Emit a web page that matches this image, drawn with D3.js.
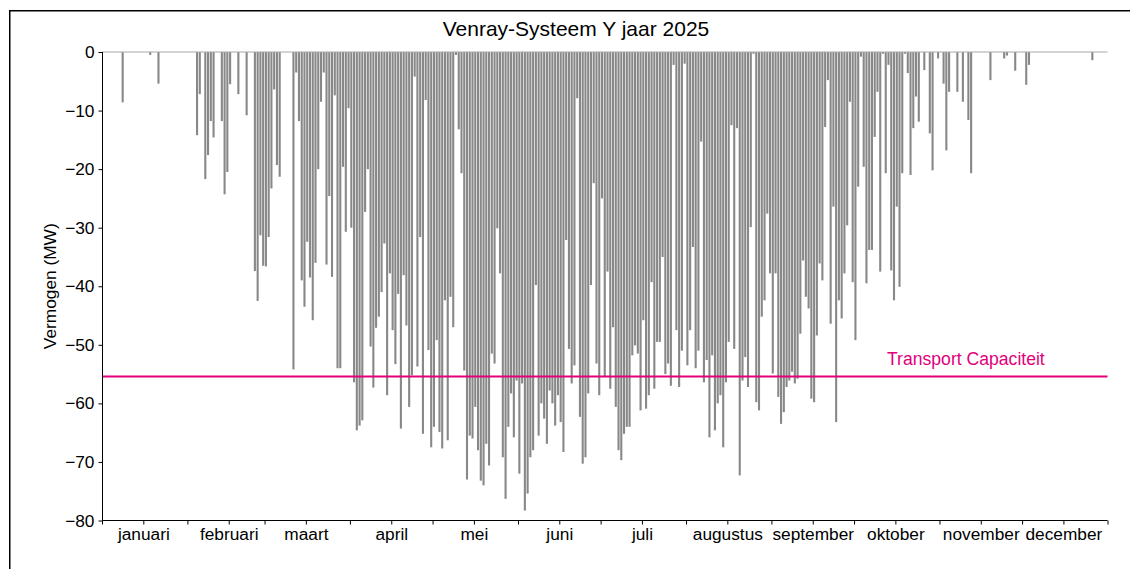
<!DOCTYPE html>
<html>
<head>
<meta charset="utf-8">
<script src="https://cdn.jsdelivr.net/npm/d3@7"></script>
<style>
  html, body { margin: 0; padding: 0; background: #fff; }
  svg { display: block; font-family: "Liberation Sans", Arial, sans-serif; }
</style>
</head>
<body>
<svg id="chart" width="1130" height="569"></svg>
<script>
// ---- DATA ----
const title = "Venray-Systeem Y jaar 2025";
const yLabel = "Vermogen (MW)";
const monthNames = ["januari","februari","maart","april","mei","juni","juli","augustus","september","oktober","november","december"];
const monthStartDay = [0,31,59,90,120,151,181,212,243,273,304,334,365];
const yTicks = [0,-10,-20,-30,-40,-50,-60,-70,-80];
const capacityLabel = "Transport Capaciteit";
const capacityValue = -55.4;

// daily peak feed-in (MW), index = day of year (0 = 1 januari)
const dailyPower = [
  // jan 0-30
  0,0,0,0,0,0,0,-8.6,0,0, 0,0,0,0,0,0,0,-0.5,0,0, -5.4,0,0,0,0,0,0,0,0,0, 0,
  // feb 31-58
  0,0,0,-14.2,-7.2,0,-21.7,-17.6,-11.8,-14.6, 0,0,-11.8,-24.3,-20.5,-5.5,0,0,-7.2,0, 0,-10.8,0,0,-37.4,-42.5,-31.3,-36.5,
  // mrt 59-89
  -36.6,-31.6,-23.3,-6.4,-19.3,-21.3,0,0,0,0, -54.2,-3.5,-11.8,-39,-43.5,-32.4,-38.5,-45.8,-36,-20, -8.5,-3.5,-36.3,-24.6,-38.4,-7.4,-54,-54,-19.6,-30.7, -9.6,
  // apr 90-119
  -30,-56.4,-64.6,-63.8,-62.9,-27.3,-20,-50.3,-57.3,-47.1, -45.2,-41,-32.7,-58.6,-37.8,-47.5,-53.3,-41.3,-64.3,-38.1, -46.7,-60.6,-55.2,-4.2,-53.7,-31.6,-65.2,-8.2,-50.9,-67.5,
  // mei 120-150
  -64,-49.2,-64.9,-67.7,-42.4,-66.3,-41.8,-47,-0.5,-13.2, -20.7,-54.4,-73,-65.5,-66,-60.6,-68,-73.2,-74,-66.9, -70.6,-51.5,-53.2,-30.1,-37.8,-69.2,-76.3,-64,-58.3,-65.8, -56.1,
  // jun 151-180
  -72,-56.6,-78.3,-75.4,-69.2,-68,-39.8,-65.5,-60,-62.6, -66.9,-57.8,-60,-63.8,-58.6,-63.2,-68.3,-32.1,-50.7,-56.6, -53.5,-7.9,-62.3,-70.3,-69.2,-58.3,-39.8,-22.4,-53.2,-58.6,
  // jul 181-211
  -25,-55.5,-37.5,-57.5,-47,-60.6,-68,-69.7,-65.2,-64, -64,-51.8,-50.1,-51.5,-61.2,-45.8,-60.9,-58.6,-39.3,-57.5, -49.5,-49.5,-35,-55,-53.2,-57,-2.2,-47.5,-57.2,-51, -2,
  // aug 212-242
  -53.5,-47.5,-33.3,-54,-51,-15.3,-56.4,-52.6,-65.8,-51.8, -64.6,-60,-58.6,-67.5,-56.4,-49.5,-12.5,-50.7,-13,-72.3, -56.1,-52.1,-57.2,-29.9,-0.3,-59.8,-61.2,-45.2,-42.4,-27.6, -37.8,
  // sep 243-272
  -54.9,-37.8,-58.9,-63.5,-61.5,-57.2,-56.1,-54.6,-56.6,-55.8, -48.1,-35.6,-41.8,-43.8,-59.2,-59.8,-48.4,-36.1,-39,-12.8, -4.8,-46.4,-26.4,-63.2,-42.4,-45.5,-37.8,-29.6,-8.5,-39.3,
  // okt 273-303
  -49.2,-23,-0.8,-19.6,-39.5,-33.8,-33.8,-14.5,-6.8,-37.5, -0.3,-20.7,-2.2,-37.3,-42.4,-26.4,-40.1,-20.7,-0.3,-3.6, -21,-13,-7.6,-11.9,0,-3.1,0,-13.9,-20.2,0, -1.1,
  // nov 304-333
  0,-5.4,-16.8,-6.8,0,0,-6.8,0,-8.5,0, -11.6,-20.7,0,0,0,0,0,0,-4.8,0, 0,0,0,-1.1,-0.6,0,0,-3.2,0,0,
  // dec 334-364
  0,-5.6,-2.2,0,0,0,0,0,0,0, 0,0,0,0,0,0,0,0,0,0, 0,0,0,0,0,-1.4,0,0,0,0, 0
];

// ---- CHART ----
const svg = d3.select("#chart");
const W = 1130, H = 569;
const margin = { left: 102.5, right: 1107.5, top: 52, bottom: 520.5 };

// figure frame
svg.append("rect")
  .attr("x", 9.75).attr("y", 10.75)
  .attr("width", W + 20).attr("height", H + 20)
  .attr("fill", "none").attr("stroke", "#000").attr("stroke-width", 1.5);

const x = d3.scaleLinear().domain([0, 365]).range([margin.left - 0.5, margin.right]);
const y = d3.scaleLinear().domain([-80, 0]).range([margin.bottom, margin.top]);

// bars
const days = dailyPower.map((v, i) => ({ day: i, value: v })).filter(d => d.value < 0);
const barW = 2.1;
svg.append("g").selectAll("rect")
  .data(days).join("rect")
  .attr("x", d => x(d.day + 0.5) - barW / 2)
  .attr("width", barW)
  .attr("y", y(0))
  .attr("height", d => y(d.value) - y(0))
  .attr("fill", "#888888");

// zero line
svg.append("line")
  .attr("x1", x(0)).attr("x2", x(365))
  .attr("y1", y(0)).attr("y2", y(0))
  .attr("stroke", "#a8a8a8").attr("stroke-width", 1);

// capacity line
svg.append("line")
  .attr("x1", x(0)).attr("x2", x(365))
  .attr("y1", y(capacityValue)).attr("y2", y(capacityValue))
  .attr("stroke", "#e2007a").attr("stroke-width", 2);
svg.append("text")
  .attr("x", 887).attr("y", y(capacityValue) - 11)
  .attr("fill", "#e2007a").attr("font-size", 17.6)
  .text(capacityLabel);

// y axis
const yAxis = d3.axisLeft(y).tickValues(yTicks).tickSize(4).tickPadding(4)
  .tickFormat(d3.format("d"));
const gy = svg.append("g").attr("transform", `translate(${margin.left},0)`).call(yAxis);
gy.select(".domain").attr("d", `M0,${margin.top}V${margin.bottom}`).attr("stroke", "#000").attr("stroke-width", 1);
gy.selectAll("text").attr("font-size", 17.3).attr("fill", "#000")
  .attr("font-family", "'Liberation Sans', Arial, sans-serif");

// x axis: ticks at month starts and mid-months, labels at mid-months
const midDays = monthStartDay.slice(0, 12).map(d => d + 15);
const allTicks = monthStartDay.concat(midDays).sort((a, b) => a - b);
const xAxis = d3.axisBottom(x).tickValues(allTicks).tickSize(4).tickPadding(3)
  .tickFormat(d => { const i = midDays.indexOf(d); return i >= 0 ? monthNames[i] : ""; });
const gx = svg.append("g").attr("transform", `translate(0,${margin.bottom})`).call(xAxis);
gx.select(".domain").attr("d", `M${margin.left},0H${margin.right}`).attr("stroke", "#000");
gx.selectAll("text").attr("font-size", 17.3).attr("fill", "#000")
  .attr("font-family", "'Liberation Sans', Arial, sans-serif");

// title
svg.append("text")
  .attr("x", 576).attr("y", 36).attr("text-anchor", "middle")
  .attr("font-size", 21).attr("fill", "#000")
  .text(title);

// y label
svg.append("text")
  .attr("transform", `translate(56,${(margin.top + margin.bottom) / 2}) rotate(-90)`)
  .attr("text-anchor", "middle")
  .attr("font-size", 17.3).attr("fill", "#000")
  .text(yLabel);
</script>
</body>
</html>
